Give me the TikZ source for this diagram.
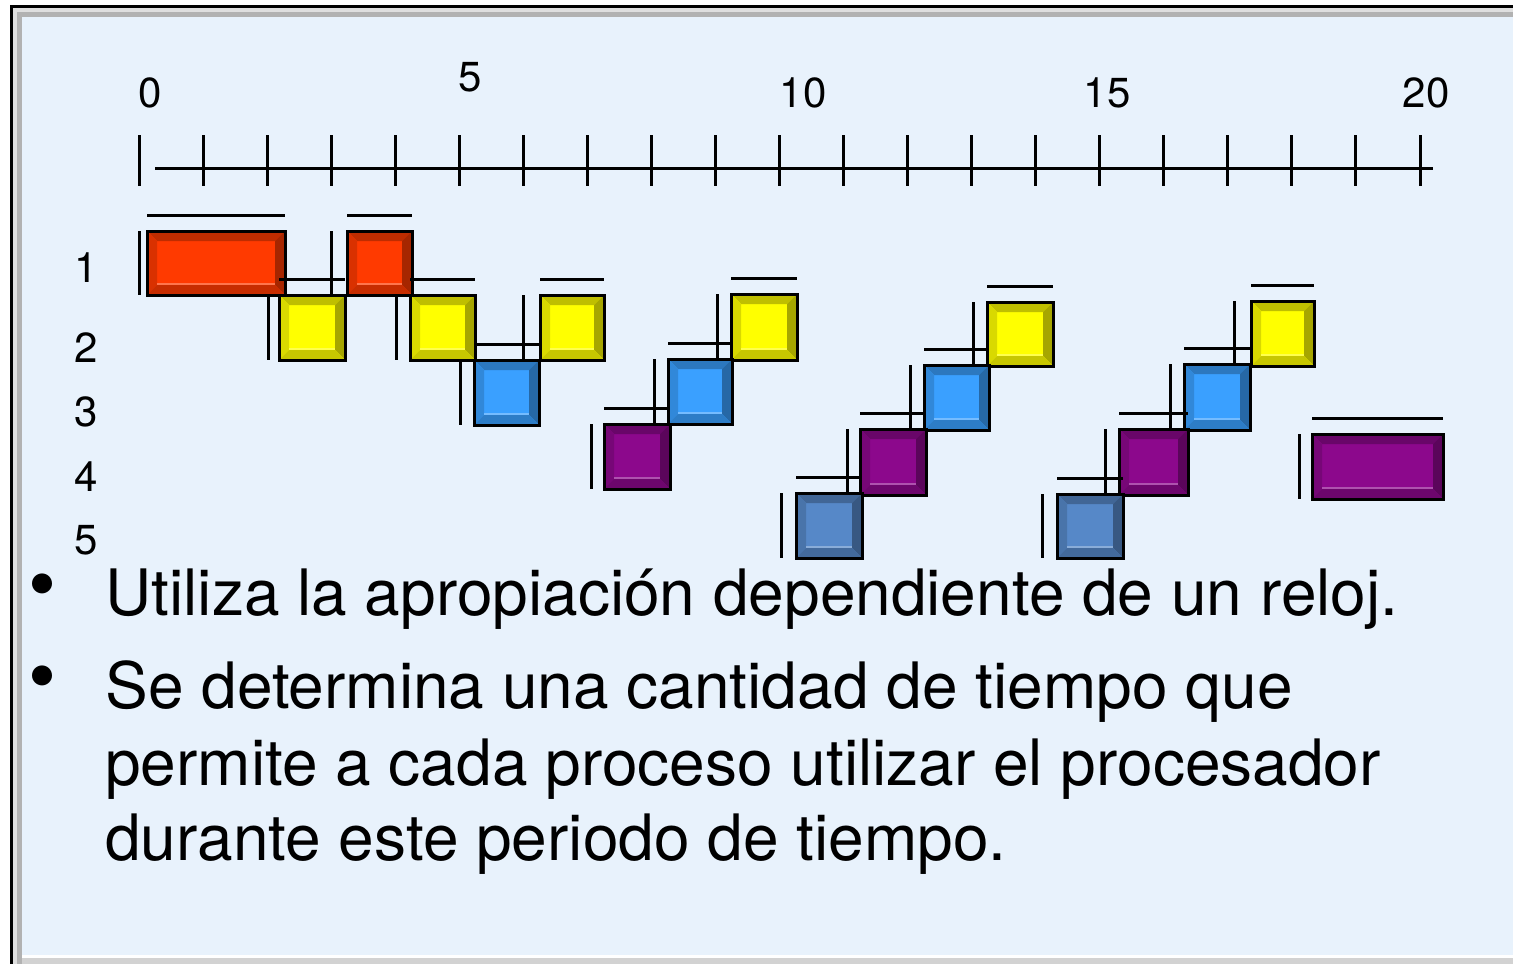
\documentclass[tikz,border=0pt]{standalone}
\usepackage{fontspec}
\setmainfont{TeX Gyre Heros}
\usepackage{tikz}
\usetikzlibrary{calc}
\definecolor{bgblue}{RGB}{232,242,252}
\definecolor{pred}{RGB}{255,58,0}
\definecolor{pyel}{RGB}{255,255,0}
\definecolor{pblu}{RGB}{58,160,255}
\definecolor{ppur}{RGB}{140,8,140}
\definecolor{pstl}{RGB}{86,136,200}
\tikzset{
    bar/.style={line width=1.5pt},
    axlabel/.style={inner sep=0pt, font=\fontsize{21}{25}\selectfont},
    bodytext/.style={anchor=base west, inner sep=0pt, font=\fontsize{32}{38}\selectfont},
    bulletmark/.style={inner sep=0pt, font=\fontsize{40}{40}\selectfont},
    procbox/.style={draw=black, line width=1.5pt, fill=#1, inner sep=0pt, outer sep=0pt,
        path picture={
            \coordinate (bvnw) at (path picture bounding box.north west);
            \coordinate (bvne) at (path picture bounding box.north east);
            \coordinate (bvsw) at (path picture bounding box.south west);
            \coordinate (bvse) at (path picture bounding box.south east);
            \fill[#1!75!black] (bvnw) -- (bvne) -- ([shift={(-5pt,-5pt)}]bvne) -- ([shift={(5pt,-5pt)}]bvnw) -- cycle;
            \fill[#1!85!black] (bvnw) -- ([shift={(5pt,-5pt)}]bvnw) -- ([shift={(5pt,5pt)}]bvsw) -- (bvsw) -- cycle;
            \fill[#1!65!black] (bvne) -- (bvse) -- ([shift={(-5pt,5pt)}]bvse) -- ([shift={(-5pt,-5pt)}]bvne) -- cycle;
            \fill[#1!78!black] (bvsw) -- (bvse) -- ([shift={(-5pt,5pt)}]bvse) -- ([shift={(5pt,5pt)}]bvsw) -- cycle;
            \draw[#1!70!white, line width=0.8pt] ([shift={(5pt,5.5pt)}]bvsw) -- ([shift={(-5pt,5.5pt)}]bvse);
        }}
}
\begin{document}
\begin{tikzpicture}[x=0.5pt,y=-0.5pt]
\useasboundingbox (0,0) rectangle (1513,963);
% frame
\fill[white] (0,0) rectangle (1513,963);
\fill[black] (10,5) rectangle (1530,980);
\fill[gray!25] (13,8) rectangle (1530,980);
\fill[gray!60] (17,12) rectangle (1530,980);
\fill[bgblue] (22,17) rectangle (1530,955);
\fill[white] (22,955) rectangle (1530,958);
\fill[gray!35] (22,958) rectangle (1530,980);
% time axis
\coordinate (axL) at (155,168);
\coordinate (axR) at (1433,168);
\draw[bar] (axL) -- (axR);
\foreach \i in {0,...,20}{
    \coordinate (t\i) at ({139+64.05*\i},168);
    \draw[bar] ([yshift=16.5pt]t\i) -- ([yshift=-9pt]t\i);
}
\foreach \v/\x/\y in {0/150/93, 5/470/77, 10/803/93, 15/1107/93, 20/1426/93}{
    \node[axlabel] (lab\v) at (\x,\y) {\v};
}
\foreach \r/\y in {1/268, 2/348, 3/412, 4/477, 5/540}{
    \node[axlabel] (row\r) at (86,\y) {\r};
}
% process slices
\foreach \n/\xa/\ya/\xb/\yb/\col/\v in {
    r1/147/231/285/295/pred/139, r2/347/231/412/295/pred/331,
    y1/279/295/345/360/pyel/268, y2/410/295/475/360/pyel/396,
    y3/540/295/604/360/pyel/523, y4/731/294/797/360/pyel/717,
    y5/987/302/1053/366/pyel/973, y6/1251/301/1314/366/pyel/1234,
    b1/474/360/539/425/pblu/460, b2/668/359/732/424/pblu/654,
    b3/924/365/989/430/pblu/910, b4/1184/364/1250/430/pblu/1170,
    p1/604/424/670/489/ppur/591, p2/860/429/926/495/ppur/847,
    p3/1119/429/1188/495/ppur/1105, p4/1312/434/1443/499/ppur/1299,
    s1/796/493/862/558/pstl/781, s2/1057/494/1123/558/pstl/1042}{
    \node[procbox=\col, minimum width={(\xb-\xa)*0.5pt}, minimum height={(\yb-\ya)*0.5pt}] (\n) at ({(\xa+\xb)/2},{(\ya+\yb)/2}) {};
    \draw[bar] ([yshift=7.75pt]\n.north west) -- ([yshift=7.75pt]\n.north east);
    \draw[bar] ([xshift={(\v-\xa)*0.5pt}]\n.north west) -- ([xshift={(\v-\xa)*0.5pt}]\n.south west);
}
% text
\node[bulletmark] (bu1) at (42,593) {•};
\node[bulletmark] (bu2) at (42,685) {•};
\node[bodytext] (ln1) at (105,615) {Utiliza la apropiación dependiente de un reloj.};
\node[bodytext] (ln2) at (105,708) {Se determina una cantidad de tiempo que};
\node[bodytext] (ln3) at (105,785) {permite a cada proceso utilizar el procesador};
\node[bodytext] (ln4) at (105,860) {durante este periodo de tiempo.};
\end{tikzpicture}
\end{document}
